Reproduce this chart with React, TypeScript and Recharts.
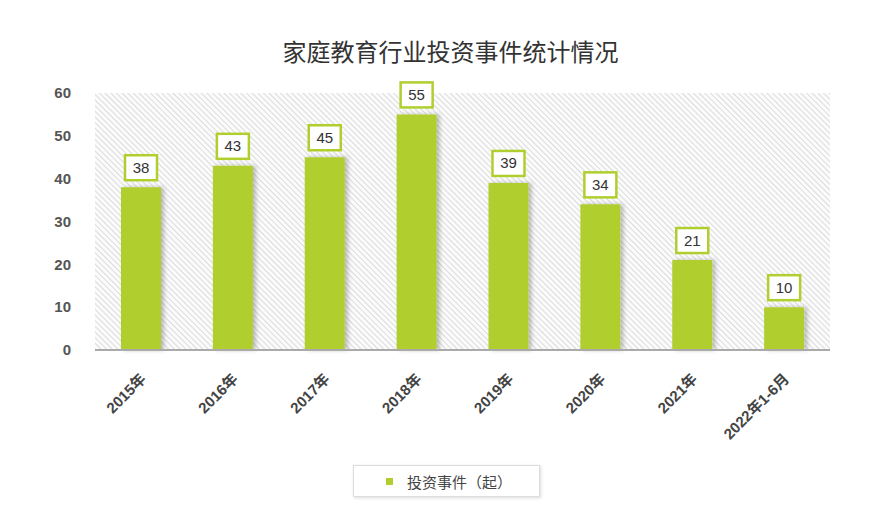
import { Bar, BarChart, CartesianGrid, LabelList, Legend, XAxis, YAxis } from "recharts";

const years = ["2015年", "2016年", "2017年", "2018年", "2019年", "2020年", "2021年", "2022年1-6月"];
const events = [38, 43, 45, 55, 39, 34, 21, 10];
const yTicks = [0, 10, 20, 30, 40, 50, 60];

const data = years.map((year, i) => ({ year, events: events[i] }));

const GREEN = "#b0cf2f";
const FONT = "'Liberation Sans', 'Noto Sans CJK SC', sans-serif";

function XTick(props: any) {
  const { x, y, payload } = props;
  return (
    <g transform={`translate(${x + 6},${y + 22}) rotate(-45)`}>
      <text x={0} y={0} textAnchor="end" fill="#444" fontSize={15} fontWeight="bold" fontFamily={FONT}>
        {payload.value}
      </text>
    </g>
  );
}

function ValueLabel(props: any) {
  const { x, y, width, value } = props;
  const cx = x + width / 2;
  const w = 32;
  const h = 25;
  const top = y - 7 - h;
  return (
    <g>
      <rect x={cx - w / 2} y={top} width={w} height={h} fill="#fff" stroke={GREEN} strokeWidth={2.5} />
      <text x={cx} y={top + h / 2 + 5} textAnchor="middle" fill="#333" fontSize={15} fontFamily={FONT}>
        {value}
      </text>
    </g>
  );
}

function LegendBox() {
  return (
    <div
      style={{
        position: "absolute",
        left: 353,
        top: 465,
        width: 187,
        height: 32,
        border: "1px solid #ddd",
        boxShadow: "1px 1px 3px rgba(0,0,0,0.15)",
        background: "#fff",
        display: "flex",
        alignItems: "center",
        fontFamily: FONT,
        fontSize: 15,
        color: "#444",
        boxSizing: "border-box",
      }}
    >
      <span style={{ display: "inline-block", width: 7, height: 7, background: GREEN, marginLeft: 32, marginRight: 14 }} />
      投资事件（起）
    </div>
  );
}

export default function App() {
  return (
    <div style={{ position: "absolute", left: 0, top: 0, width: 875, height: 520, background: "#fff" }}>
      <div
        style={{
          position: "absolute",
          top: 33,
          left: 13,
          width: 875,
          textAlign: "center",
          fontFamily: FONT,
          fontSize: 24,
          color: "#333",
        }}
      >
        家庭教育行业投资事件统计情况
      </div>
      <BarChart width={875} height={520} data={data} margin={{ top: 93, right: 45, left: 55, bottom: 80 }} barSize={40}>
        <defs>
          <pattern id="hatch" width="4" height="4" patternUnits="userSpaceOnUse" patternTransform="rotate(-45)">
            <rect width="4" height="4" fill="#fbfbfb" />
            <line x1="0" y1="0" x2="0" y2="4" stroke="#cdcdcd" strokeWidth="1.4" />
          </pattern>
          <filter id="shadow" x="-20%" y="-20%" width="150%" height="130%">
            <feDropShadow dx="3" dy="0" stdDeviation="2" floodColor="#000" floodOpacity="0.25" />
          </filter>
        </defs>
        <CartesianGrid horizontal={false} vertical={false} fill="url(#hatch)" />
        <XAxis
          dataKey="year"
          axisLine={{ stroke: "#aaa", strokeWidth: 2 }}
          tickLine={false}
          tick={<XTick />}
          height={90}
          interval={0}
        />
        <YAxis
          domain={[0, 60]}
          ticks={yTicks}
          axisLine={false}
          tickLine={false}
          width={40}
          tickMargin={18}
          tick={{ fill: "#555", fontSize: 15, fontWeight: "bold", fontFamily: FONT }}
        />
        <Bar dataKey="events" fill={GREEN} isAnimationActive={false} filter="url(#shadow)">
          <LabelList dataKey="events" content={<ValueLabel />} />
        </Bar>
        <Legend content={() => null} />
      </BarChart>
      <LegendBox />
    </div>
  );
}
